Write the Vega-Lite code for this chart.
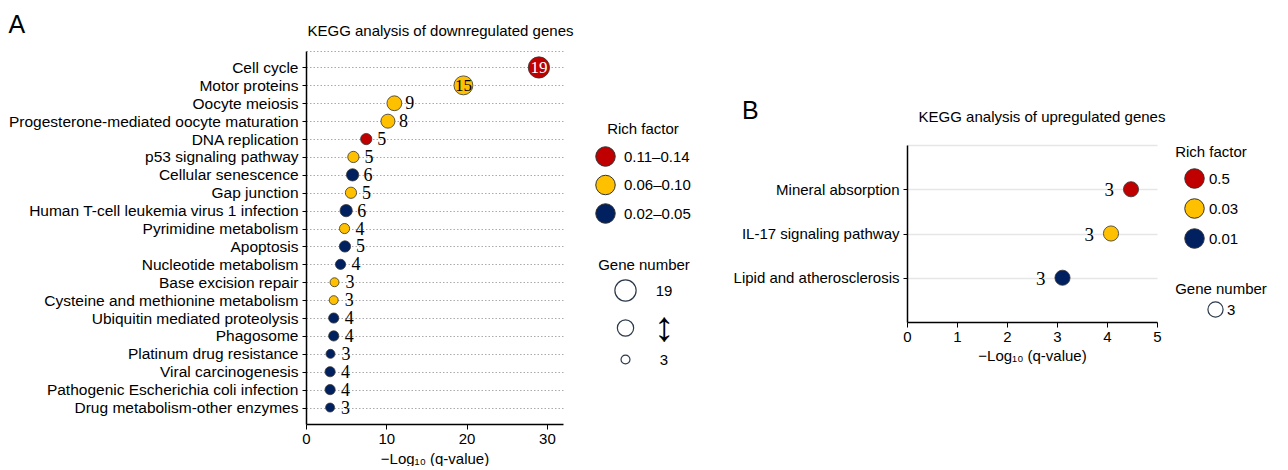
{
  "$schema": "https://vega.github.io/schema/vega-lite/v6.json",
  "padding": {"left": 8, "top": 13, "right": 0, "bottom": 0},
  "datasets": {
    "down": [
      {"pathway": "Cell cycle", "q": 29.0, "genes": 19, "rich": "0.11–0.14"},
      {"pathway": "Motor proteins", "q": 19.6, "genes": 15, "rich": "0.06–0.10"},
      {"pathway": "Oocyte meiosis", "q": 11.0, "genes": 9, "rich": "0.06–0.10"},
      {"pathway": "Progesterone-mediated oocyte maturation", "q": 10.2, "genes": 8, "rich": "0.06–0.10"},
      {"pathway": "DNA replication", "q": 7.5, "genes": 5, "rich": "0.11–0.14"},
      {"pathway": "p53 signaling pathway", "q": 5.9, "genes": 5, "rich": "0.06–0.10"},
      {"pathway": "Cellular senescence", "q": 5.8, "genes": 6, "rich": "0.02–0.05"},
      {"pathway": "Gap junction", "q": 5.6, "genes": 5, "rich": "0.06–0.10"},
      {"pathway": "Human T-cell leukemia virus 1 infection", "q": 5.0, "genes": 6, "rich": "0.02–0.05"},
      {"pathway": "Pyrimidine metabolism", "q": 4.8, "genes": 4, "rich": "0.06–0.10"},
      {"pathway": "Apoptosis", "q": 4.85, "genes": 5, "rich": "0.02–0.05"},
      {"pathway": "Nucleotide metabolism", "q": 4.3, "genes": 4, "rich": "0.02–0.05"},
      {"pathway": "Base excision repair", "q": 3.55, "genes": 3, "rich": "0.06–0.10"},
      {"pathway": "Cysteine and methionine metabolism", "q": 3.45, "genes": 3, "rich": "0.06–0.10"},
      {"pathway": "Ubiquitin mediated proteolysis", "q": 3.45, "genes": 4, "rich": "0.02–0.05"},
      {"pathway": "Phagosome", "q": 3.45, "genes": 4, "rich": "0.02–0.05"},
      {"pathway": "Platinum drug resistance", "q": 3.05, "genes": 3, "rich": "0.02–0.05"},
      {"pathway": "Viral carcinogenesis", "q": 3.0, "genes": 4, "rich": "0.02–0.05"},
      {"pathway": "Pathogenic Escherichia coli infection", "q": 3.0, "genes": 4, "rich": "0.02–0.05"},
      {"pathway": "Drug metabolism-other enzymes", "q": 3.0, "genes": 3, "rich": "0.02–0.05"}
    ],
    "up": [
      {"pathway": "Mineral absorption", "q": 4.48, "genes": 3, "rich": "0.5"},
      {"pathway": "IL-17 signaling pathway", "q": 4.08, "genes": 3, "rich": "0.03"},
      {"pathway": "Lipid and atherosclerosis", "q": 3.11, "genes": 3, "rich": "0.01"}
    ]
  },
  "spacing": 42,
  "resolve": {"scale": {"color": "independent", "size": "independent"}, "legend": {"color": "independent", "size": "independent"}},
  "hconcat": [
    {
      "title": {"text": "A", "anchor": "start", "frame": "bounds", "fontSize": 25, "fontWeight": "normal", "offset": -14},
      "resolve": {"scale": {"color": "independent", "size": "independent"}, "legend": {"color": "independent", "size": "independent"}},
      "vconcat": [
        {
          "title": {"text": "KEGG analysis of downregulated genes", "fontSize": 15, "fontWeight": "normal", "anchor": "middle", "offset": 12, "dx": 6},
          "width": 257,
          "height": 373,
          "data": {"name": "down"},
          "resolve": {"axis": {"x": "independent"}},
          "layer": [
            {
              "mark": {"type": "circle", "opacity": 1, "stroke": "#333333", "strokeWidth": 0.8},
              "encoding": {
                "y": {"field": "pathway", "type": "nominal", "sort": null,
                  "scale": {"type": "point", "padding": 0.92},
                  "axis": {"title": null, "domainColor": "black", "domainWidth": 1.5, "tickColor": "black", "tickSize": 4, "labelFontSize": 15.5, "labelColor": "black", "labelPadding": 4, "labelLimit": 0, "grid": true, "gridDash": [1.5, 2], "gridColor": "#aaaaaa"}},
                "x": {"field": "q", "type": "quantitative",
                  "scale": {"domain": [0, 32], "nice": false},
                  "axis": {"values": [0, 10, 20, 30], "title": "−Log₁₀ (q-value)", "domainColor": "black", "domainWidth": 1.5, "tickColor": "black", "tickSize": 5, "labelFontSize": 15, "labelColor": "black", "labelPadding": 2, "labelFlush": false, "titleFontSize": 15, "titleFontWeight": "normal", "titleColor": "black", "titlePadding": 5, "grid": false}},
                "size": {"field": "genes", "type": "quantitative",
                  "scale": {"domain": [3, 19], "range": [80, 452], "zero": false},
                  "legend": {"title": "Gene number", "orient": "none", "legendX": 292, "legendY": 207, "values": [19, 11, 3],
                    "labelExpr": "datum.value == 11 ? '↕' : datum.label",
                    "labelFontSize": {"expr": "datum.value == 11 ? 42 : 15"},
                    "symbolFillColor": "white", "symbolStrokeColor": "#2b3a4a", "symbolStrokeWidth": 1.2, "symbolType": "circle",
                    "labelOffset": 27, "labelAlign": "center", "labelColor": "black",
                    "titleFontSize": 15, "titleFontWeight": "normal", "titleColor": "black", "titleAnchor": "middle", "titlePadding": 6, "rowPadding": 3}},
                "color": {"field": "rich", "type": "nominal",
                  "scale": {"domain": ["0.11–0.14", "0.06–0.10", "0.02–0.05"], "range": ["#C00000", "#FFC000", "#002060"]},
                  "legend": {"title": "Rich factor", "orient": "none", "legendX": 289, "legendY": 71,
                    "symbolSize": 380, "symbolType": "circle", "symbolStrokeColor": "#333333", "symbolStrokeWidth": 1,
                    "labelFontSize": 15, "labelColor": "black", "labelOffset": 8,
                    "titleFontSize": 15, "titleFontWeight": "normal", "titleColor": "black", "titleAnchor": "middle", "titlePadding": 9, "rowPadding": 3.5}}
              }
            },
            {
              "transform": [{"filter": "datum.genes < 15"}],
              "mark": {"type": "text", "align": "left", "baseline": "middle", "dx": 11, "dy": 1, "font": "Liberation Serif", "fontSize": 18, "color": "black"},
              "encoding": {
                "x": {"field": "q", "type": "quantitative",
                  "axis": {"orient": "top", "title": null, "labels": false, "ticks": false, "grid": false, "domain": true, "domainDash": [1.5, 2], "domainColor": "#aaaaaa", "domainWidth": 1}},
                "y": {"field": "pathway", "type": "nominal", "sort": null},
                "text": {"field": "genes", "type": "quantitative"}
              }
            },
            {
              "transform": [{"filter": "datum.genes >= 15"}],
              "mark": {"type": "text", "align": "center", "baseline": "middle", "dy": 1, "font": "Liberation Serif", "fontSize": 17},
              "encoding": {
                "x": {"field": "q", "type": "quantitative", "axis": null},
                "y": {"field": "pathway", "type": "nominal", "sort": null},
                "text": {"field": "genes", "type": "quantitative"},
                "color": {"condition": {"test": "datum.rich == '0.11–0.14'", "value": "white"}, "value": "black"}
              }
            }
          ]
        }
      ]
    },
    {
      "spacing": 0,
      "resolve": {"scale": {"color": "independent", "size": "independent"}, "legend": {"color": "independent", "size": "independent"}},
      "vconcat": [
        {"data": {"values": []}, "mark": "point", "width": 1, "height": 48},
        {
          "title": {"text": "B", "anchor": "start", "frame": "bounds", "fontSize": 25, "fontWeight": "normal", "offset": -14, "dx": 9},
          "resolve": {"scale": {"color": "independent", "size": "independent"}, "legend": {"color": "independent", "size": "independent"}},
          "vconcat": [
            {
              "title": {"text": "KEGG analysis of upregulated genes", "fontSize": 15, "fontWeight": "normal", "anchor": "middle", "offset": 20, "dx": 10},
              "width": 250,
              "height": 177,
              "data": {"name": "up"},
              "resolve": {"axis": {"x": "independent"}},
              "layer": [
                {
                  "mark": {"type": "circle", "opacity": 1, "stroke": "#333333", "strokeWidth": 0.8},
                  "encoding": {
                    "y": {"field": "pathway", "type": "nominal", "sort": null,
                      "scale": {"type": "point", "padding": 1},
                      "axis": {"title": null, "domainColor": "black", "domainWidth": 1.5, "tickColor": "black", "tickSize": 4, "labelFontSize": 15, "labelColor": "black", "labelPadding": 4, "labelLimit": 0, "grid": true, "gridColor": "#e6e6e6", "gridWidth": 1.5}},
                    "x": {"field": "q", "type": "quantitative",
                      "scale": {"domain": [0, 5], "nice": false},
                      "axis": {"values": [0, 1, 2, 3, 4, 5], "title": "−Log₁₀ (q-value)", "domainColor": "black", "domainWidth": 1.5, "tickColor": "black", "tickSize": 5, "labelFontSize": 15, "labelColor": "black", "labelPadding": 2, "labelFlush": false, "titleFontSize": 15, "titleFontWeight": "normal", "titleColor": "black", "titlePadding": 4, "grid": false}},
                    "size": {"field": "genes", "type": "quantitative",
                      "scale": {"domain": [0, 3], "range": [0, 230]},
                      "legend": {"title": "Gene number", "orient": "none", "legendX": 268, "legendY": 137, "values": [3], "format": "d",
                        "symbolFillColor": "white", "symbolStrokeColor": "#2b3a4a", "symbolStrokeWidth": 1.2, "symbolType": "circle",
                        "labelOffset": 3, "labelColor": "black", "labelFontSize": 15,
                        "titleFontSize": 15, "titleFontWeight": "normal", "titleColor": "black", "titleAnchor": "middle", "titlePadding": 4}},
                    "color": {"field": "rich", "type": "nominal",
                      "scale": {"domain": ["0.5", "0.03", "0.01"], "range": ["#C00000", "#FFC000", "#002060"]},
                      "legend": {"title": "Rich factor", "orient": "none", "legendX": 268, "legendY": 0,
                        "symbolSize": 380, "symbolType": "circle", "symbolStrokeColor": "#333333", "symbolStrokeWidth": 1,
                        "labelFontSize": 15, "labelColor": "black", "labelOffset": 4,
                        "titleFontSize": 15, "titleFontWeight": "normal", "titleColor": "black", "titleAnchor": "middle", "titlePadding": 8, "rowPadding": 5}}
                  }
                },
                {
                  "mark": {"type": "text", "align": "right", "baseline": "middle", "dx": -17, "dy": 1, "font": "Liberation Serif", "fontSize": 19, "color": "black"},
                  "encoding": {
                    "x": {"field": "q", "type": "quantitative",
                      "axis": {"orient": "top", "title": null, "labels": false, "ticks": false, "grid": false, "domain": true, "domainColor": "#e6e6e6", "domainWidth": 1.5}},
                    "y": {"field": "pathway", "type": "nominal", "sort": null},
                    "text": {"field": "genes", "type": "quantitative"}
                  }
                }
              ]
            }
          ]
        }
      ]
    }
  ],
  "config": {
    "font": "Liberation Sans",
    "view": {"stroke": null},
    "title": {"color": "black", "font": "Liberation Sans"},
    "axis": {"labelFont": "Liberation Sans", "titleFont": "Liberation Sans"},
    "legend": {"labelFont": "Liberation Sans", "titleFont": "Liberation Sans"}
  }
}
